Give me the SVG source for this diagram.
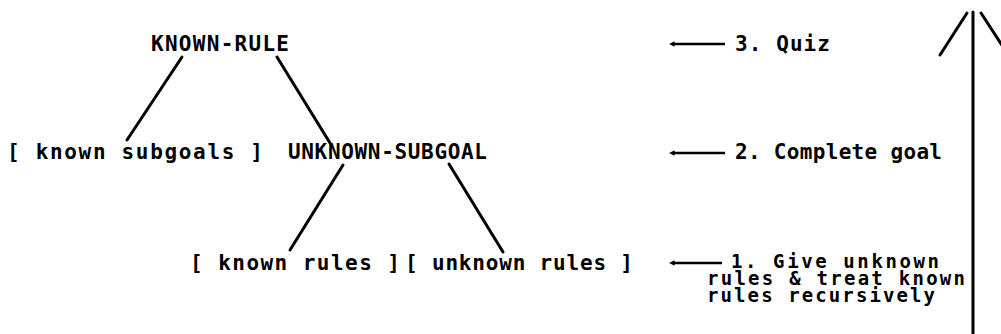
<svg xmlns="http://www.w3.org/2000/svg" width="1001" height="334" viewBox="0 0 1001 334">
  <style>
    .t { font-family: "DejaVu Sans Mono", "Liberation Mono", monospace; font-weight: bold; font-size: 21px; fill: #000; }
    .note { font-size: 19px; }
    .edge { stroke: #000; stroke-width: 3; stroke-linecap: round; fill: none; }
    .ptr { stroke: #000; stroke-width: 2.5; fill: none; marker-start: url(#head); }
  </style>
  <defs>
    <marker id="head" viewBox="0 0 10 10" refX="1" refY="5" markerWidth="2.4" markerHeight="2.2" orient="auto-start-reverse" markerUnits="strokeWidth">
      <path d="M10,5 L0,0 L0,10 Z" fill="#000"/>
    </marker>
  </defs>
  <rect width="1001" height="334" fill="#fff"/>

  <!-- tree nodes -->
  <g id="known-rule">
    <text class="t" x="151" y="51" textLength="138" lengthAdjust="spacing">KNOWN-RULE</text>
  </g>
  <g id="known-subgoals">
    <text class="t" x="7" y="159" textLength="256" lengthAdjust="spacing" xml:space="preserve">[ known subgoals ]</text>
  </g>
  <g id="unknown-subgoal">
    <text class="t" x="288" y="159" textLength="199" lengthAdjust="spacing">UNKNOWN-SUBGOAL</text>
  </g>
  <g id="known-rules">
    <text class="t" x="190" y="270" textLength="210" lengthAdjust="spacing" xml:space="preserve">[ known rules ]</text>
  </g>
  <g id="unknown-rules">
    <text class="t" x="405" y="270" textLength="228" lengthAdjust="spacing" xml:space="preserve">[ unknown rules ]</text>
  </g>

  <!-- step labels -->
  <g id="step-3">
    <text class="t" x="735" y="51" textLength="95" lengthAdjust="spacing">3. Quiz</text>
  </g>
  <g id="step-2">
    <text class="t" x="735" y="159" textLength="207" lengthAdjust="spacing">2. Complete goal</text>
  </g>
  <g id="step-1">
    <text class="t note" x="731" y="268" textLength="208" lengthAdjust="spacing">1. Give unknown</text>
    <text class="t note" x="707" y="285" textLength="258" lengthAdjust="spacing">rules &amp; treat known</text>
    <text class="t note" x="707" y="302" textLength="228" lengthAdjust="spacing">rules recursively</text>
  </g>

  <!-- connectors -->
  <g id="connectors">
    <line class="edge" x1="182" y1="57" x2="127" y2="140"/>
    <line class="edge" x1="277" y1="57" x2="330" y2="143"/>
    <line class="edge" x1="343" y1="165" x2="290" y2="250"/>
    <line class="edge" x1="449" y1="164" x2="503" y2="252"/>
    <line class="ptr" x1="674" y1="44" x2="725" y2="44"/>
    <line class="ptr" x1="674" y1="153" x2="725" y2="153"/>
    <line class="ptr" x1="674" y1="263" x2="722" y2="263"/>
    <!-- upward progression arrow -->
    <line class="edge" x1="973" y1="12" x2="973" y2="334"/>
    <line class="edge" x1="967" y1="13" x2="940" y2="55"/>
    <line class="edge" x1="981" y1="13" x2="1007" y2="53"/>
  </g>
</svg>
